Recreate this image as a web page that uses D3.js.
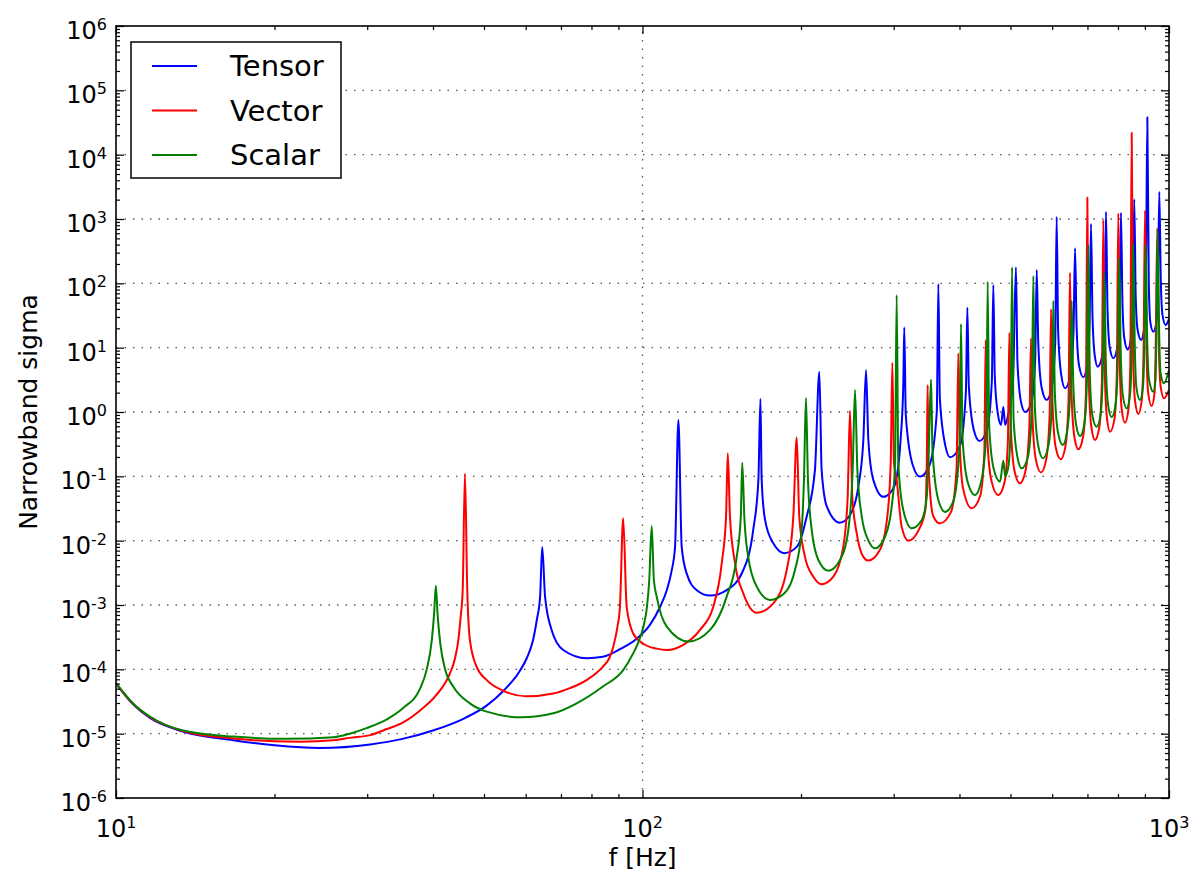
<!DOCTYPE html>
<html>
<head>
<meta charset="utf-8">
<script src="https://cdn.jsdelivr.net/npm/d3@7"></script>
<style>
  body { margin: 0; background: #fff; }
  text { font-family: "DejaVu Sans", sans-serif; fill: #000; }
</style>
</head>
<body>
<div id="chart"></div>
<script>
// series: [frequency Hz, narrowband sigma]
const tensor = [
  [10, 6.0e-5], [10.8, 2.8e-5], [11.6, 1.75e-5], [13.4, 1.08e-5], [16.7, 7.9e-6], [20, 6.6e-6], [24.4, 6.0e-6],
  [30.4, 6.8e-6], [35, 8.3e-6], [40, 1.12e-5], [46, 1.75e-5], [50.5, 2.7e-5], [54.4, 4.6e-5], [58.5, 9.5e-5],
  [60.3, 1.5e-4], [62.0, 2.9e-4], [63.0, 5.9e-4], [63.9, 1.35e-3], [64.5, 8.0e-3], [65.3, 1.35e-3], [67.2, 4.1e-4],
  [70.7, 2.0e-4], [78.3, 1.49e-4], [84.1, 1.57e-4], [91, 2.1e-4], [97.5, 3.0e-4], [103.3, 4.9e-4], [108, 9.4e-4],
  [111.2, 1.7e-3], [113.5, 3.3e-3], [115.3, 8.0e-3], [117, 0.75], [118.7, 8.0e-3],
  [121.3, 3.1e-3], [126.8, 1.7e-3], [134.4, 1.4e-3], [144.5, 1.7e-3], [155.4, 3.5e-3], [162.3, 0.0147], [166, 0.088],
  [167.5, 1.6], [168.4, 0.088], [170.9, 0.021], [177.2, 9.1e-3], [186, 6.4e-3], [196.3, 8.0e-3], [205, 0.0236],
  [212.6, 0.126], [216.7, 4.2], [218.9, 0.126], [223.9, 0.034], [237, 0.019], [247.8, 0.025], [257, 0.069],
  [262.7, 0.37], [265.8, 4.5], [268.5, 0.37], [274.4, 0.088], [286.7, 0.048], [295.1, 0.055], [301.7, 0.075],
  [309, 0.35], [312.8, 2.5], [314.2, 20.7], [316.3, 0.9], [326, 0.15], [336.5, 0.099], [351, 0.15], [362.2, 1.0],
  [364.7, 98], [367.1, 1.6], [376, 0.3], [383.8, 0.198], [401, 0.3], [411.3, 2.0], [414, 42], [416.7, 2.5],
  [426, 0.52], [436.3, 0.355], [450.9, 0.52], [460.8, 3.0], [463.8, 94], [466.8, 3.5], [473.5, 0.9], [479.7, 0.63],
  [484.6, 1.2], [488.3, 0.63], [494.8, 0.9], [505.5, 3.0], [512, 178], [515.4, 6], [523.8, 1.4], [533, 1.0],
  [547.9, 1.4], [556.8, 6], [560.8, 161], [564.5, 12], [572.9, 2.4], [585.7, 1.54], [598.7, 2.4], [608, 12],
  [611.8, 1087], [615.8, 18], [624.4, 3.7], [634.7, 2.34], [649.7, 3.7], [658.6, 18], [663.1, 351], [667.5, 22],
  [674.7, 5.3], [687.6, 3.47], [698.7, 5.3], [706.4, 22], [711, 837], [715.7, 30], [722.8, 7.5], [731.9, 5.07],
  [746.9, 7.5], [754.3, 30], [759.2, 1300], [764.2, 40], [771.8, 10], [784, 6.84], [797.5, 10], [805.4, 40],
  [810.5, 1256], [815.8, 50], [822.5, 14], [834.6, 9.4], [847, 14], [853.7, 50], [859, 2027], [864.6, 60],
  [871.7, 19], [885, 13.2], [896.5, 19], [903.6, 70], [909.5, 38100], [915.5, 100], [921.6, 25], [933.7, 17.7],
  [946.2, 25], [952.4, 80], [958.5, 2660], [964.8, 110], [972.1, 32], [985.6, 22.5], [1000, 28]
];

const vector = [
  [10, 6.0e-5], [10.8, 2.85e-5], [11.6, 1.8e-5], [13.4, 1.1e-5], [16.7, 8.4e-6], [20, 7.6e-6], [22.4, 7.5e-6],
  [25.9, 7.9e-6], [27.8, 8.6e-6], [30.4, 9.5e-6], [32.7, 1.18e-5], [35.1, 1.5e-5], [37.8, 2.3e-5], [40.6, 4.0e-5],
  [43.1, 8.7e-5], [44.05, 1.49e-4], [44.7, 2.9e-4], [45.15, 6.6e-4], [45.55, 1.7e-3], [46.0, 0.11], [46.47, 1.7e-3],
  [47.0, 2.9e-4], [48.4, 1.1e-4], [50.6, 6.8e-5], [54.4, 4.65e-5], [60.3, 3.8e-5], [67.7, 4.2e-5], [72.8, 5.1e-5],
  [78.3, 6.8e-5], [84.1, 1.1e-4], [86.5, 1.5e-4], [88.0, 2.25e-4], [89.5, 4.3e-4], [90.6, 9.4e-4],
  [91.9, 0.0223], [93.3, 9.4e-4], [96.0, 3.6e-4], [100.35, 2.5e-4], [106.4, 2.1e-4], [111.2, 2.0e-4],
  [119.5, 2.4e-4], [128.6, 4.1e-4], [136.3, 9.4e-4], [141.4, 4.4e-3], [144.1, 0.0236], [145.2, 0.228],
  [146.6, 0.0236], [149.9, 4.4e-3], [155.4, 1.52e-3], [164.8, 7.6e-4], [177.2, 1.06e-3], [187.9, 3.5e-3],
  [193.4, 0.0236], [196.3, 0.405], [198.5, 0.0236], [203.5, 5.6e-3], [211.1, 2.75e-3], [218.9, 2.1e-3],
  [230.4, 2.75e-3], [240.6, 8.0e-3], [245.3, 0.048], [247.8, 1.05], [250.3, 0.048], [255.2, 0.013],
  [262.7, 5.6e-3], [268.5, 4.9e-3], [282.5, 7.2e-3], [291.7, 0.0236], [296.1, 0.16], [298.2, 5.85],
  [300.4, 0.16], [303.9, 0.088], [310.6, 0.0165], [319.8, 0.01], [335.1, 0.015], [344.5, 0.03], [346.8, 0.2],
  [348, 2.63], [349.2, 0.2], [351.6, 0.06], [356.7, 0.024], [367.3, 0.0186], [385.5, 0.028], [394.9, 0.13],
  [398, 8.2], [400.6, 0.3], [406.3, 0.065], [421.9, 0.0318], [438, 0.05], [446, 0.25], [448.6, 13.2],
  [451.7, 0.4], [460, 0.085], [474, 0.051], [487, 0.08], [494.3, 0.35], [497.5, 17.1], [500.8, 0.55],
  [509, 0.12], [521, 0.078], [533.7, 0.12], [543, 0.6], [546.9, 14], [550.5, 0.8], [558.7, 0.18], [571.3, 0.115],
  [584.3, 0.18], [593.3, 0.9], [597, 39.6], [601, 1.3], [609.4, 0.28], [622.6, 0.184], [635.1, 0.28],
  [644.3, 1.4], [648.6, 146], [652.8, 2.0], [660.9, 0.42], [672.6, 0.263], [687, 0.42], [695.4, 2.0],
  [699.6, 2150], [704.2, 3.0], [712, 0.59], [723.5, 0.367], [737.4, 0.59], [745.6, 2.9], [750.3, 966],
  [755.2, 4.0], [762.6, 0.79], [772.6, 0.494], [788, 0.79], [796, 4.0], [801.1, 1227], [806.3, 5.4],
  [813.3, 1.1], [825, 0.68], [837.4, 1.1], [844.3, 5.4], [849.5, 22000], [855, 7.5], [861.9, 1.5],
  [874.5, 0.93], [887.4, 1.5], [894.5, 7.5], [900.4, 1350], [906.3, 10], [912.8, 2.0], [927, 1.24],
  [938.8, 2.0], [943.3, 9], [950, 718], [956.2, 12], [963.6, 2.6], [978.4, 1.63], [1000, 2.2]
];

const scalar = [
  [10, 6.1e-5], [10.8, 2.9e-5], [11.6, 1.85e-5], [13.4, 1.12e-5], [16.7, 9.0e-6], [21.1, 8.3e-6], [25.9, 8.8e-6],
  [27.8, 1.0e-5], [29.9, 1.22e-5], [32.7, 1.67e-5], [35.1, 2.5e-5], [37.8, 5.0e-5], [38.9, 9.8e-5],
  [39.8, 2.86e-4], [40.2, 7.4e-4], [40.5, 2.0e-3], [40.8, 7.4e-4], [41.3, 2.5e-4], [42.2, 9.8e-5],
  [43.7, 5.4e-5], [47, 2.96e-5], [50.6, 2.2e-5], [58.9, 1.8e-5], [67.7, 2.07e-5], [75.0, 2.96e-5], [84.1, 5.4e-5],
  [91.9, 9.7e-5], [96.0, 1.77e-4], [98.5, 2.8e-4], [100.4, 4.6e-4], [102, 9.5e-4], [103.0, 2.45e-3],
  [104.1, 0.0169], [105.1, 2.45e-3], [106.4, 1.35e-3], [111.2, 4.6e-4], [122.2, 2.7e-4], [134.4, 4.1e-4],
  [144.5, 1.35e-3], [151, 5.6e-3],
  [153.7, 0.0236], [154.7, 0.163], [156.1, 0.0236], [158.8, 5.6e-3], [164.8, 1.93e-3], [174.7, 1.2e-3],
  [186, 1.52e-3], [194.8, 3.5e-3], [200.6, 0.0147], [202.6, 0.088], [204.4, 1.65], [206.2, 0.088],
  [209.6, 0.0147], [215.8, 5.0e-3], [225.4, 3.4e-3], [237.2, 5.0e-3], [246, 0.0147], [250.7, 0.126],
  [253.3, 2.2], [255.9, 0.126], [260.9, 0.0236], [268.5, 0.0101], [276.5, 7.6e-3], [288.8, 0.0115],
  [297.4, 0.034], [301.8, 0.16], [303.9, 66], [306.1, 0.16], [312.8, 0.030], [324.6, 0.0156], [339.1, 0.021],
  [346.7, 0.048], [350.6, 0.53], [353.2, 3.2], [355.5, 0.25], [364.9, 0.042], [375.5, 0.028], [389.7, 0.042],
  [400.2, 0.3], [402.7, 23.3], [405.3, 0.4], [414.8, 0.08], [428, 0.051], [439.4, 0.08], [449.7, 0.45],
  [452.5, 106], [455.5, 0.6], [464.6, 0.13], [477.6, 0.083], [484.6, 0.175], [488.3, 0.1], [495.8, 0.15],
  [500.2, 0.6], [503.4, 178], [506.7, 0.8], [515.3, 0.2], [525, 0.133], [539.5, 0.2], [548.6, 1.0],
  [552.5, 130], [556.2, 1.2], [564.4, 0.3], [576.4, 0.19], [590.2, 0.3], [599.3, 1.4], [603, 53.7], [607, 2.0],
  [615.4, 0.48], [628.3, 0.307], [640.1, 0.48], [649.2, 2.2], [653.4, 53.7], [657.7, 3.0], [665.8, 0.65],
  [677.7, 0.42], [690.6, 0.65], [698.5, 3.0], [702.7, 394], [707.3, 4.0], [715.1, 0.9], [728.9, 0.59],
  [741.3, 0.9], [748.8, 4.5], [753.7, 147], [758.6, 6], [766, 1.3], [778.3, 0.83], [791.5, 1.3], [799.4, 6],
  [804.5, 245], [809.8, 8], [817.2, 1.8], [831, 1.14], [842.9, 1.8], [849.5, 8], [855.3, 409], [861, 11],
  [867.2, 2.4], [880.8, 1.54], [892.1, 2.4], [897.6, 10], [903, 394], [909, 14], [916.4, 3.2], [933.7, 2.07],
  [942.9, 3.2], [945.8, 12], [951.7, 675], [958, 16], [964, 4.0], [978, 2.8], [1000, 4.5]
];

const seriesNames = ["Tensor", "Vector", "Scalar"];
const seriesColors = ["#0000ff", "#ff0000", "#008000"];
const xMajor = [10, 100, 1000];
const xExponents = ["1", "2", "3"];
const yMajor = [1e-6, 1e-5, 1e-4, 1e-3, 1e-2, 1e-1, 1, 1e1, 1e2, 1e3, 1e4, 1e5, 1e6];
const yExponents = ["-6", "-5", "-4", "-3", "-2", "-1", "0", "1", "2", "3", "4", "5", "6"];

const width = 1196, height = 881;
const margin = {top: 26, right: 27, bottom: 83, left: 116};

const svg = d3.select("#chart").append("svg")
  .attr("width", width)
  .attr("height", height);

const x = d3.scaleLog().domain([10, 1000]).range([margin.left, width - margin.right]);
const y = d3.scaleLog().domain([1e-6, 1e6]).range([height - margin.bottom, margin.top]);

// minor ticks at 2..9 of every decade
const xMinor = [];
for (let d = 10; d < 1000; d *= 10) for (let k = 2; k < 10; k++) xMinor.push(k * d);
const yMinor = [];
for (let e = -6; e < 6; e++) for (let k = 2; k < 10; k++) yMinor.push(k * Math.pow(10, e));

// dotted grid
const grid = svg.append("g")
  .attr("stroke", "#555")
  .attr("stroke-width", 1.3)
  .attr("stroke-dasharray", "1.5,7");
grid.selectAll(".gx").data(xMajor.slice(1, -1)).join("line")
  .attr("x1", d => x(d)).attr("x2", d => x(d))
  .attr("y1", y.range()[0]).attr("y2", y.range()[1]);
grid.selectAll(".gy").data(yMajor.slice(1, -1)).join("line")
  .attr("y1", d => y(d)).attr("y2", d => y(d))
  .attr("x1", x.range()[0]).attr("x2", x.range()[1]);

// curves
svg.append("clipPath").attr("id", "plotclip").append("rect")
  .attr("x", margin.left).attr("y", margin.top)
  .attr("width", width - margin.left - margin.right)
  .attr("height", height - margin.top - margin.bottom);

const line = d3.line()
  .x(d => x(d[0]))
  .y(d => y(d[1]))
  .curve(d3.curveMonotoneX);

const allSeries = [tensor, vector, scalar];
svg.append("g").attr("clip-path", "url(#plotclip)")
  .selectAll("path").data(allSeries).join("path")
    .attr("d", d => line(d))
    .attr("fill", "none")
    .attr("stroke", (d, i) => seriesColors[i])
    .attr("stroke-width", 2)
    .attr("stroke-linejoin", "round");

// ticks, pointing inwards on all four sides
function tickStyle(g) {
  g.select(".domain").remove();
  g.selectAll(".tick line").attr("stroke", "#000").attr("stroke-width", 1.2);
}
const yBottom = height - margin.bottom, xRight = width - margin.right;
[[8, xMajor], [4, xMinor]].forEach(([size, vals]) => {
  svg.append("g").attr("transform", `translate(0,${yBottom})`)
    .call(d3.axisBottom(x).tickValues(vals).tickSize(-size).tickFormat("")).call(tickStyle);
  svg.append("g").attr("transform", `translate(0,${margin.top})`)
    .call(d3.axisTop(x).tickValues(vals).tickSize(-size).tickFormat("")).call(tickStyle);
});
[[8, yMajor], [4, yMinor]].forEach(([size, vals]) => {
  svg.append("g").attr("transform", `translate(${margin.left},0)`)
    .call(d3.axisLeft(y).tickValues(vals).tickSize(-size).tickFormat("")).call(tickStyle);
  svg.append("g").attr("transform", `translate(${xRight},0)`)
    .call(d3.axisRight(y).tickValues(vals).tickSize(-size).tickFormat("")).call(tickStyle);
});

// frame
svg.append("rect")
  .attr("x", margin.left).attr("y", margin.top)
  .attr("width", xRight - margin.left).attr("height", yBottom - margin.top)
  .attr("fill", "none").attr("stroke", "#000").attr("stroke-width", 1.6);

// tick labels as 10 with a superscript
function powerLabel(sel, exps) {
  sel.each(function(d, i) {
    const t = d3.select(this);
    t.append("tspan").text("10");
    t.append("tspan").attr("dy", -9).attr("font-size", 16).text(exps[i]);
  });
}
svg.append("g").selectAll("text").data(xMajor).join("text")
  .attr("x", d => x(d)).attr("y", yBottom + 39)
  .attr("text-anchor", "middle").attr("font-size", 24)
  .call(powerLabel, xExponents);
svg.append("g").selectAll("text").data(yMajor).join("text")
  .attr("x", margin.left - 9).attr("y", d => y(d) + 13)
  .attr("text-anchor", "end").attr("font-size", 24)
  .call(powerLabel, yExponents);

// axis titles
svg.append("text")
  .attr("x", (margin.left + xRight) / 2).attr("y", 866)
  .attr("text-anchor", "middle").attr("font-size", 25)
  .text("f [Hz]");
svg.append("text")
  .attr("transform", `translate(37,${(margin.top + yBottom) / 2}) rotate(-90)`)
  .attr("text-anchor", "middle").attr("font-size", 25)
  .text("Narrowband sigma");

// legend
const legend = svg.append("g");
legend.append("rect")
  .attr("x", 131).attr("y", 42).attr("width", 210).attr("height", 136)
  .attr("fill", "#fff").attr("stroke", "#000").attr("stroke-width", 1.5);
const entry = legend.selectAll(".entry").data(seriesNames).join("g")
  .attr("transform", (d, i) => `translate(0,${66 + i * 44.5})`);
entry.append("line")
  .attr("x1", 152).attr("x2", 197)
  .attr("stroke", (d, i) => seriesColors[i]).attr("stroke-width", 2);
entry.append("text")
  .attr("x", 230).attr("y", 10)
  .attr("font-size", 29)
  .text(d => d);
</script>
</body>
</html>
